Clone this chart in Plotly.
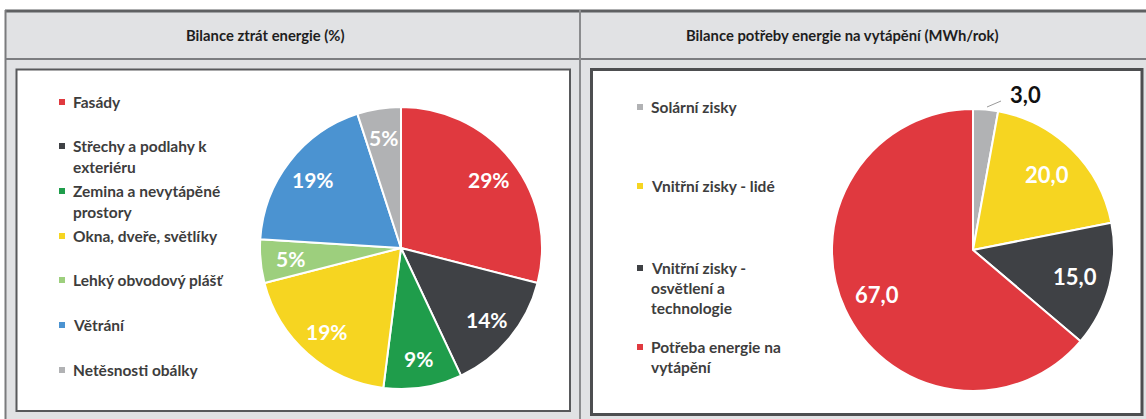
import math
import plotly.graph_objects as go

W, H = 1146, 419

# ---- data ----
loss_labels = ["Fasády", "Střechy a podlahy k exteriéru", "Zemina a nevytápěné prostory",
               "Okna, dveře, světlíky", "Lehký obvodový plášť", "Větrání", "Netěsnosti obálky"]
loss_values = [29, 14, 9, 19, 5, 19, 5]
loss_legend_lines = [["Fasády"], ["Střechy a podlahy k", "exteriéru"], ["Zemina a nevytápěné", "prostory"],
                     ["Okna, dveře, světlíky"], ["Lehký obvodový plášť"], ["Větrání"], ["Netěsnosti obálky"]]

heat_labels = ["Solární zisky", "Vnitřní zisky - lidé", "Vnitřní zisky - osvětlení a technologie",
               "Potřeba energie na vytápění"]
heat_values = [3.0, 20.0, 15.0, 67.0]
heat_legend_lines = [["Solární zisky"], ["Vnitřní zisky - lidé"], ["Vnitřní zisky -", "osvětlení a", "technologie"],
                     ["Potřeba energie na", "vytápění"]]

titles = ["Bilance ztrát energie (%)", "Bilance potřeby energie na vytápění (MWh/rok)"]

# ---- styles ----
loss_colors = ["#e0393f", "#3f4145", "#1f9d4b", "#f6d521", "#9dcf7d", "#4b93d1", "#b1b2b4"]
heat_colors = ["#b1b2b4", "#f6d521", "#3f4145", "#e0393f"]
FONT = "Lato"
TXT = "#3d3d3d"

# pie geometry (pixels)
LEFT_C, LEFT_R = (401, 248), 141
RIGHT_C, RIGHT_R = (973, 250), 141


def px(x):
    return x / W


def py(y):
    return 1 - y / H


def fmt(v):
    return f"{v:.1f}".replace(".", ",")


def mid_angles(values):
    tot = sum(values)
    out, acc = [], 0.0
    for v in values:
        out.append((acc + v / 2) / tot * 2 * math.pi)
        acc += v
    return out


fig = go.Figure()


def add_pie(labels, values, colors, center, r):
    cx, cy = center
    fig.add_trace(go.Pie(
        labels=labels, values=values, sort=False, direction="clockwise", rotation=0,
        marker=dict(colors=colors, line=dict(color="white", width=2)),
        textinfo="none",
        domain=dict(x=[px(cx - r), px(cx + r)], y=[py(cy + r), py(cy - r)]),
        showlegend=False, hoverinfo="label+value+percent",
    ))


add_pie(loss_labels, loss_values, loss_colors, LEFT_C, LEFT_R)
add_pie(heat_labels, heat_values, heat_colors, RIGHT_C, RIGHT_R)

shapes = []


def rect(x0, y0, x1, y1, fill, line_color=None, lw=0):
    shapes.append(dict(type="rect", xref="paper", yref="paper", x0=px(x0), x1=px(x1), y0=py(y1), y1=py(y0),
                       fillcolor=fill, line=dict(color=line_color or fill, width=lw), layer="below"))


def line(x0, y0, x1, y1, color, lw, layer="below"):
    shapes.append(dict(type="line", xref="paper", yref="paper", x0=px(x0), x1=px(x1), y0=py(y0), y1=py(y1),
                       line=dict(color=color, width=lw), layer=layer))


rect(5, 10, W, H, "#e1e2e4")
line(5, 11, W, 11, "#5f6062", 3)
line(5.5, 10, 5.5, H, "#7a7b7d", 2)
line(5, 59, W, 59, "#7c7d80", 2)
line(580, 10, 580, H, "#8b8c8e", 2)
rect(16.5, 69.5, 570, 411, "white", "#58595b", 2)
rect(591.5, 69.5, 1142, 414.5, "white", "#4d4e50", 3)

annotations = []


def text(x, y, s, size=15.5, color=TXT, xanchor="left", bold=True):
    annotations.append(dict(x=px(x), y=py(y), xref="paper", yref="paper", text=s, showarrow=False,
                            xanchor=xanchor, yanchor="middle",
                            font=dict(family=FONT, size=size, color=color, weight="bold" if bold else "normal")))


text(265, 35, titles[0], size=14.8, color="#1e1e1e", xanchor="center")
text(842, 35, titles[1], size=14.8, color="#1e1e1e", xanchor="center")

# left legend
loss_leg_y = [102, 146, 191, 236, 280, 325, 370]
for lines, y, c in zip(loss_legend_lines, loss_leg_y, loss_colors):
    rect(59, y - 3, 65, y + 3, c)
    for i, s in enumerate(lines):
        text(71, y + i * 21, s)

# right legend
heat_leg_y = [107, 186, 268, 347]
for lines, y, c in zip(heat_legend_lines, heat_leg_y, heat_colors):
    rect(637, y - 3, 643, y + 3, c)
    for i, s in enumerate(lines):
        text(649, y + i * 20, s)

# slice labels, placed along each slice's mid angle
tot = sum(loss_values)
for v, a in zip(loss_values, mid_angles(loss_values)):
    rr = LEFT_R * 0.79
    text(LEFT_C[0] + rr * math.sin(a), LEFT_C[1] - rr * math.cos(a), f"{round(100 * v / tot)}%",
         size=21, color="white", xanchor="center")

for i, (v, a) in enumerate(zip(heat_values, mid_angles(heat_values))):
    if i == 0:
        continue
    rr = RIGHT_R * 0.75
    text(RIGHT_C[0] + rr * math.sin(a), RIGHT_C[1] - rr * math.cos(a), fmt(v),
         size=22, color="white", xanchor="center")

# outside label for the small slice
text(1025, 95, fmt(heat_values[0]), size=22, color="#111111", xanchor="center")
line(987, 107, 1001, 101, "#9a9a9a", 1, layer="above")

fig.update_layout(
    width=W, height=H, margin=dict(l=0, r=0, t=0, b=0),
    paper_bgcolor="white", plot_bgcolor="white",
    shapes=shapes, annotations=annotations,
    font=dict(family=FONT),
)

fig.write_html("out.html", config={"displayModeBar": False},
               post_script="document.body.style.margin='0';")
